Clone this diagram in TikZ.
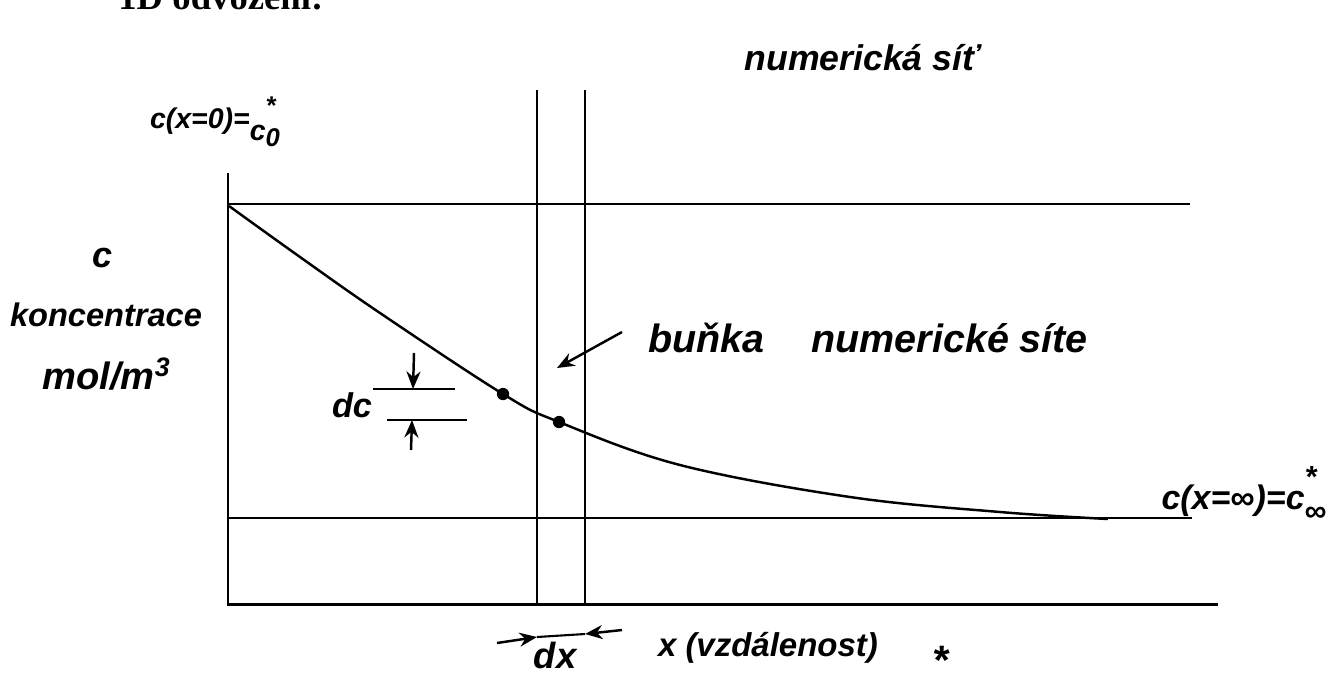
\documentclass[tikz,border=0pt]{standalone}
\usepackage{fontspec}
\setmainfont{Liberation Serif}
\newfontfamily\hw{Liberation Sans}
\usetikzlibrary{arrows.meta}
\newcommand\hwt[2]{\resizebox{#1}{!}{\hw\bfseries\itshape #2}}
\begin{document}
\begin{tikzpicture}[x=0.02cm,y=-0.02cm,
  axisline/.style={line width=1.7pt},
  gridline/.style={line width=0.7pt},
  curveline/.style={line width=1.4pt},
  handarrow/.style={line width=1.4pt,-{Stealth[length=10pt,width=8pt]}},
  dot/.style={circle,fill=black,inner sep=0pt,minimum size=7pt},
  lbl/.style={inner sep=0pt}]
\useasboundingbox (0,0) rectangle (1335,684);
\fill[white] (0,0) rectangle (1335,684);
% title (cut off at top)
\node[lbl,anchor=base west] (title) at (118,9) {\resizebox{4.1cm}{!}{\bfseries 1D odvození:}};
% axes
\coordinate (ytop) at (228,173);
\coordinate (org) at (228,604);
\coordinate (xend) at (1218,604);
\draw[axisline] (ytop) -- (org) -- (xend);
% level lines
\coordinate (c0l) at (228,204); \coordinate (c0r) at (1190,204);
\coordinate (cil) at (228,518); \coordinate (cir) at (1192,518);
\draw[gridline] (c0l) -- (c0r);
\draw[gridline] (cil) -- (cir);
% grid cell lines
\coordinate (g1t) at (537,90); \coordinate (g1b) at (537,604);
\coordinate (g2t) at (585,90); \coordinate (g2b) at (585,604);
\draw[gridline] (g1t) -- (g1b);
\draw[gridline] (g2t) -- (g2b);
% curve
\draw[curveline] plot[smooth,tension=0.6] coordinates {(229,206) (300,257) (380,313) (503,394) (559,422) (680,465) (850,497) (1000,512) (1108,519)};
\node[dot] (p1) at (503,394) {};
\node[dot] (p2) at (559,422) {};
% dc marker
\coordinate (du1) at (373,389); \coordinate (du2) at (455,389);
\coordinate (dl1) at (387,420); \coordinate (dl2) at (467,420);
\draw[gridline] (du1) -- (du2);
\draw[gridline] (dl1) -- (dl2);
\coordinate (da1) at (414,353); \coordinate (da2) at (413,389);
\coordinate (db1) at (411,450); \coordinate (db2) at (412,420);
\draw[handarrow] (da1) -- (da2);
\draw[handarrow] (db1) -- (db2);
\node[lbl] (dc) at (352,405) {\hwt{0.8cm}{dc}};
% cell label and arrow
\node[lbl] (bunka) at (868,338) {\hwt{8.8cm}{buňka\hspace{1.2em}numerické síte}};
\coordinate (ba1) at (622,332); \coordinate (ba2) at (557,368);
\draw[handarrow] (ba1) -- (ba2);
% top label
\node[lbl] (sit) at (862,58) {\hwt{4.7cm}{numerická síť}};
% axis labels
\node[lbl] (c0) at (215,122) {\hwt{2.6cm}{c(x=0)=\raisebox{-0.8ex}{c\rlap{\raisebox{1.7ex}{\small *}}\raisebox{-0.4ex}{\small 0}}}};
\node[lbl] (cy) at (102,258) {\hwt{0.4cm}{c}};
\node[lbl] (konc) at (106,315) {\hwt{3.84cm}{koncentrace}};
\node[lbl] (unit) at (107,374) {\hwt{2.58cm}{mol/m\textsuperscript{3}}};
\node[lbl] (cinf) at (1244,494) {\hwt{3.3cm}{c(x=∞)=c\rlap{\raisebox{1.2ex}{\small *}}\raisebox{-0.7ex}{\small ∞}}};
% dx
\node[lbl] (dx) at (555,655) {\hwt{0.85cm}{dx}};
\coordinate (xa1) at (497,643); \coordinate (xa2) at (537,637);
\coordinate (xb1) at (622,630); \coordinate (xb2) at (585,634);
\draw[handarrow] (xa1) -- (xa2);
\draw[handarrow] (xb1) -- (xb2);
\draw[line width=1.2pt] (xa2) -- (xb2);
\node[lbl] (xlab) at (768,648) {\hwt{4.4cm}{x (vzdálenost)}};
\node[lbl] (star) at (940,660) {\hwt{0.32cm}{*}};
\end{tikzpicture}
\end{document}
